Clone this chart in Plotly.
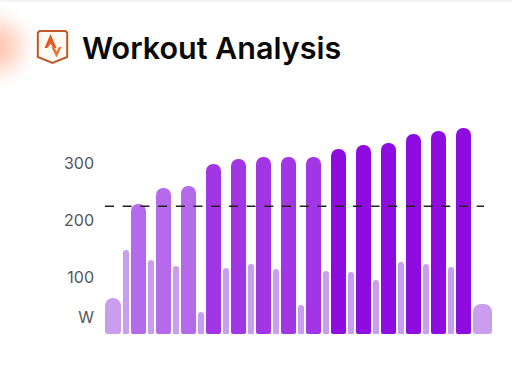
import plotly.graph_objects as go

W, H = 512, 377
ML, MB = 105, 43
PW, PH = 387, H - MB

kinds = ["warm","rest","work","rest","work","rest","work","rest","work","rest","work","rest","work","rest",
         "work","rest","work","rest","work","rest","work","rest","work","rest","work","rest","work","rest","work","cool"]
powers = [64,148,228,130,256,120,260,39,299,116,307,123,310,114,
          310,51,310,110,324,109,332,95,335,127,351,123,357,117,361,53]
ftp = 224
duration = {"warm":16,"cool":18.6,"rest":6.2,"work":14.6}
gap = 2.1
radius = {"warm":8,"cool":8,"rest":3,"work":7}
foot_radius = {"warm":3,"cool":3,"rest":1.5,"work":2.5}

def color(k, p):
    if k != "work":
        return "#CB9DEE"
    if p < 280:
        return "#B46AEA"
    if p < 320:
        return "#A336E4"
    return "#8E0CE0"

xs, ws = [], []
t = 0
for k in kinds:
    d = duration[k]
    xs.append(t + d/2); ws.append(d)
    t += d + gap

fig = go.Figure()
MAIN_BASE, FOOT_TOP = 10, 30
for group in ["warm","rest","work","cool"]:
    idx = [i for i,k in enumerate(kinds) if k == group]
    X = [xs[i] for i in idx]; Wd = [ws[i] for i in idx]
    C = [color(kinds[i],powers[i]) for i in idx]
    fig.add_trace(go.Bar(x=X, y=[powers[i]-MAIN_BASE for i in idx], base=MAIN_BASE, width=Wd,
        marker=dict(color=C, line_width=0, cornerradius=radius[group]), showlegend=False))
    fig.add_trace(go.Bar(x=X, y=[FOOT_TOP]*len(idx), base=0.01, width=Wd,
        marker=dict(color=C, line_width=0, cornerradius=foot_radius[group]), showlegend=False))

fig.add_trace(go.Scatter(x=[0, 379], y=[ftp, ftp], mode="lines",
                         line=dict(color="#222222", width=1.4, dash="9px,8.7px"), showlegend=False))

def px(x): return (x - ML) / PW
def py(y): return (H - MB - y) / PH

shapes = [dict(type="rect", xref="paper", yref="paper", x0=px(0), x1=px(W), y0=py(0), y1=py(2),
               fillcolor="#F4F4F4", line_width=0, layer="below")]
for r, a in zip([42,39,36,33,30,27,24,21,18,15,12,9,6],
                [.015,.02,.03,.04,.05,.055,.06,.07,.07,.07,.06,.05,.04]):
    shapes.append(dict(type="circle", xref="paper", yref="paper",
                       x0=px(-4-r), x1=px(-4+r), y0=py(47+r), y1=py(47-r),
                       fillcolor="#FF9A6E", opacity=a, line_width=0, layer="below"))

def path(pts, close=True):
    s = "M" + " L".join(f"{px(x):.4f},{py(y):.4f}" for x, y in pts)
    return s + (" Z" if close else "")

shield = [(39.5,31),(65.5,31),(67.2,32.7),(67.2,57),(52.5,63),(37.8,57),(37.8,32.7)]
shapes.append(dict(type="path", xref="paper", yref="paper", path=path(shield), fillcolor="#FFF9F4",
                   line=dict(color="#BF5A28", width=2)))
shapes.append(dict(type="path", xref="paper", yref="paper",
                   path=path([(44.5,48),(50.5,34),(56.5,48),(53.5,48),(50.5,43.5),(47.5,48)]),
                   fillcolor="#E2581F", line_width=0))
shapes.append(dict(type="path", xref="paper", yref="paper",
                   path=path([(51.5,47),(56.5,57.5),(61.5,47),(59,47),(56.5,51.5),(54,47)]),
                   fillcolor="#EC7030", line_width=0))

fig.update_layout(
    width=W, height=H, margin=dict(l=ML, r=W-ML-PW, t=0, b=MB, autoexpand=False),
    paper_bgcolor="white", plot_bgcolor="white", bargap=0, barmode="overlay",
    shapes=shapes,
    xaxis=dict(range=[0, PW], visible=False),
    yaxis=dict(range=[0, PH/0.57], tickvals=[30,100,200,300], ticktext=["W","100","200","300"],
               showgrid=False, zeroline=False, showline=False, ticks="", ticklabelstandoff=10,
               tickfont=dict(family="Inter, Noto Sans, sans-serif", size=16, color="#555555")),
    annotations=[dict(text="Workout Analysis", xref="paper", yref="paper", x=px(79.5), y=py(47),
                      xanchor="left", yanchor="middle", showarrow=False,
                      font=dict(family="Inter, sans-serif", size=30.5, color="#0A0A0A", weight=600))],
)
fig.write_html("out.html", config={"displayModeBar": False},
               post_script="document.body.style.margin='0';"
               "document.querySelectorAll('.bars path').forEach(function(p){p.style.shapeRendering='geometricPrecision';});")
